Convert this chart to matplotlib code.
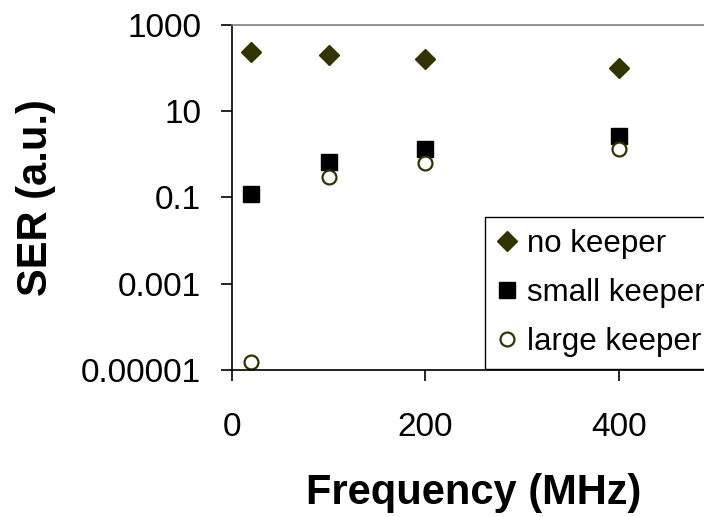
import matplotlib.pyplot as plt
import matplotlib.ticker as ticker

plt.rcParams["font.family"] = ["Liberation Sans", "DejaVu Sans"]

# SER measurements per clock frequency
freq = [20, 100, 200, 400]
no_keeper = [230, 200, 160, 100]
small_keeper = [0.12, 0.65, 1.3, 2.6]
large_keeper = [1.5e-5, 0.3, 0.63, 1.3]

y_ticks = [1e-5, 1e-3, 1e-1, 1e1, 1e3]
y_tick_labels = ["0.00001", "0.001", "0.1", "10", "1000"]
x_ticks = [0, 200, 400]

olive = "#333300"

fig = plt.figure(figsize=(7.04, 5.17), dpi=100)
ax = fig.add_axes([0.3291, 0.2843, 0.6878, 0.6679])

ax.plot(freq, no_keeper, linestyle="none", marker="D", markersize=10,
        color=olive, label="no keeper", clip_on=False)
ax.plot(freq, small_keeper, linestyle="none", marker="s", markersize=12,
        color="black", label="small keeper", clip_on=False)
ax.plot(freq, large_keeper, linestyle="none", marker="o", markersize=10,
        markerfacecolor="white", markeredgecolor=olive, markeredgewidth=1.6,
        label="large keeper", clip_on=False)

ax.set_yscale("log")
ax.set_ylim(1e-5, 1e3)
ax.set_xlim(0, 500)
ax.yaxis.set_major_locator(ticker.FixedLocator(y_ticks))
ax.yaxis.set_minor_locator(ticker.NullLocator())
ax.set_yticklabels(y_tick_labels)
ax.set_xticks(x_ticks)

ax.tick_params(axis="both", direction="out", length=8, width=1.2,
               labelsize=24, colors="black")
ax.tick_params(axis="y", pad=14)
ax.tick_params(axis="x", pad=22)

ax.spines["right"].set_visible(False)
ax.spines["top"].set_color("#808080")
ax.spines["top"].set_linewidth(1.2)
for side in ("left", "bottom"):
    ax.spines[side].set_linewidth(1.2)
    ax.spines[side].set_color("black")

ax.set_xlabel("Frequency (MHz)", fontsize=30, fontweight="bold", labelpad=22)
ax.set_ylabel("SER (a.u.)", fontsize=30, fontweight="bold", labelpad=18)

leg = ax.legend(loc="upper left", bbox_to_anchor=(485 / 704, 1 - 216.7 / 517),
                bbox_transform=fig.transFigure, fontsize=22.5, frameon=True,
                fancybox=False, shadow=False, borderaxespad=0, borderpad=0.4,
                handlelength=0.6, handletextpad=0.35, labelspacing=0.6,
                framealpha=1)
leg.get_frame().set_edgecolor("black")
leg.get_frame().set_linewidth(1.0)

fig.savefig("out.png", dpi=100)
